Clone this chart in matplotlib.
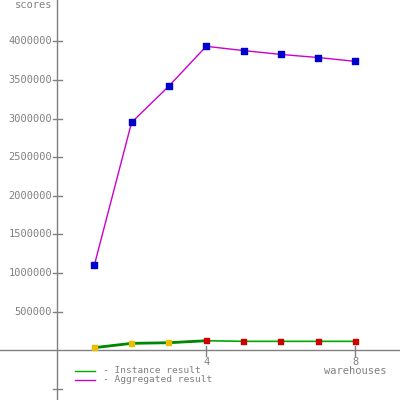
import matplotlib
matplotlib.use("Agg")
import matplotlib.pyplot as plt

warehouses = [1, 2, 3, 4, 5, 6, 7, 8]
aggregated = [1100000, 2950000, 3420000, 3935000, 3880000, 3830000, 3790000, 3740000]
instance = [34000, 90000, 98000, 124000, 116000, 116000, 116000, 116000]
instance_colors = ["#e8c000", "#e8c000", "#e8c000", "#cc0000", "#cc0000", "#cc0000", "#cc0000", "#cc0000"]
ytick_vals = [500000, 1000000, 1500000, 2000000, 2500000, 3000000, 3500000, 4000000]
xtick_vals = [4, 8]

gray = "#808080"
fnt = dict(family="DejaVu Sans Mono", size=7.5, color=gray)

fig = plt.figure(figsize=(4, 4), dpi=100)
ax = fig.add_axes([0, 0, 1, 1])
# pixel mapping: px = 57 + 37.3*x ; py = 350.3 - 77.25e-6*y
sx = 37.3
sy = 77.25e-6
ax.set_xlim(-57 / sx, (400 - 57) / sx)
ax.set_ylim(-(400 - 350.3) / sy, 350.3 / sy)
ax.axis("off")

# axes lines
ax.axhline(0, color=gray, lw=1)
ax.axvline(0, color=gray, lw=1)

# y ticks
for v in ytick_vals + [-500000]:
    ax.plot([-4 / sx, 5 / sx], [v, v], color=gray, lw=1, clip_on=False)
for v in ytick_vals:
    ax.text(-5 / sx, v, str(v), ha="right", va="center", **fnt)
# x ticks
for v in xtick_vals:
    ax.plot([v, v], [4 / sy, -6 / sy], color=gray, lw=1)
    ax.text(v, -7 / sy, str(v), ha="center", va="top", **fnt)
ax.text(8, -16 / sy, "warehouses", ha="center", va="top", **fnt)
ax.text(-5 / sx, 350.3 / sy - 0.5 / sy, "scores", ha="right", va="top", **fnt)

# data
ax.plot(warehouses, aggregated, color="#cc00cc", lw=1, zorder=3)
ax.scatter(warehouses, aggregated, marker="s", s=13, color="#0000cc", zorder=4)
ax.plot(warehouses, instance, color="#00aa00", lw=1.2, zorder=3)
ax.plot(warehouses[:4], instance[:4], color="#008800", lw=2, zorder=3)
ax.scatter(warehouses, instance, marker="s", s=13, color=instance_colors, zorder=4)

# legend
lfnt = dict(fnt, size=6.8)
lx0, lx1 = (75 - 57) / sx, (95 - 57) / sx
for py, col, lab in [(370.5, "#00aa00", "- Instance result"), (379.5, "#cc00cc", "- Aggregated result")]:
    yy = (350.3 - py) / sy
    ax.plot([lx0, lx1], [yy, yy], color=col, lw=1)
    ax.text((103 - 57) / sx, yy, lab, ha="left", va="center", **lfnt)

fig.savefig("out.png", dpi=100)
